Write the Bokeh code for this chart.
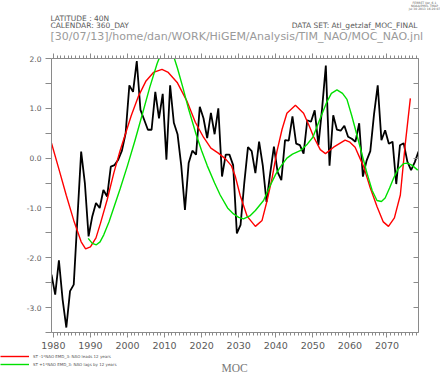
from bokeh.plotting import figure
from bokeh.layouts import column, row
from bokeh.models import (Range1d, LinearAxis, FixedTicker, Legend, LegendItem,
                          PrintfTickFormatter, CustomJSTickFormatter)
from bokeh.core.properties import value
from bokeh.embed import file_html
from bokeh.resources import INLINE

# ---------------- data ----------------
first_year = 1979.5
moc = [-2.34, -2.74, -2.05, -2.84, -3.40, -2.67, -2.54, -1.20, 0.13, -0.50,
       -1.57, -1.17, -0.90, -1.00, -0.64, -0.77, -0.17, -0.14, -0.03, 0.15,
       0.50, 1.46, 1.33, 1.95, 0.97, 0.77, 0.57, 0.57, 1.33, 0.80,
       1.29, -0.03, 1.46, 0.71, 0.48, -0.15, -1.04, -0.10, 0.15, 0.07,
       1.03, 0.80, 0.40, 0.91, 0.48, 1.00, -0.37, 0.07, 0.07, -0.14,
       -1.51, -1.34, -0.50, 0.22, 0.14, -0.30, 0.33, -0.15, -0.88, -0.30,
       0.23, -0.28, -0.44, 0.36, 0.35, 0.84, 0.29, 0.26, 0.09, 0.76,
       0.73, 0.96, 0.26, 1.00, 1.86, -0.15, 0.86, 0.57, 0.55, 0.65,
       0.43, 0.39, 0.33, 0.70, -0.37, -0.05, 0.14, 0.88, 1.46, 0.36,
       0.56, 0.29, 0.33, -0.52, 0.26, 0.30, -0.07, -0.24, -0.08, 0.13]
years = [first_year + i for i in range(len(moc))]

red_t = [1979.5, 1981.5, 1983.5, 1985.5, 1987.5, 1988.7, 1990.0, 1991.5, 1992.7, 1994.5,
         1996.3, 1998.0, 1999.5, 2001.0, 2003.0, 2005.0, 2007.0, 2009.3, 2011.0, 2013.4,
         2016.0, 2018.3, 2020.5, 2022.5, 2024.5, 2026.5, 2028.0, 2029.1, 2030.4, 2032.3,
         2034.5, 2036.3, 2037.6, 2039.0, 2040.3, 2041.7, 2043.0, 2045.3, 2047.5, 2049.0,
         2050.2, 2052.0, 2053.4, 2055.6, 2058.7, 2060.0, 2061.4, 2063.7, 2065.5, 2067.3,
         2069.0, 2070.4, 2072.0, 2073.6, 2074.9, 2076.3]
red_v = [0.30, -0.22, -0.75, -1.25, -1.68, -1.82, -1.78, -1.60, -1.31, -0.84,
         -0.30, 0.15, 0.50, 0.85, 1.25, 1.55, 1.72, 1.78, 1.72, 1.52,
         1.15, 0.72, 0.42, 0.20, 0.10, -0.02, -0.15, -0.37, -0.75, -1.17,
         -1.37, -1.25, -0.87, -0.40, 0.13, 0.58, 0.90, 1.06, 0.90, 0.65,
         0.43, 0.17, 0.09, 0.22, 0.36, 0.32, 0.22, -0.17, -0.60, -0.97,
         -1.28, -1.37, -1.20, -0.74, 0.26, 1.20]

green_t = [1989.4, 1990.5, 1991.6, 1992.6, 1993.6, 1995.0, 1996.5, 1998.0, 2000.0, 2002.0,
           2004.0, 2006.0, 2008.0, 2009.5, 2010.7, 2012.0, 2013.5, 2015.0, 2016.5, 2018.5,
           2020.0, 2021.5, 2023.5, 2025.0, 2027.0, 2028.6, 2030.0, 2031.3, 2033.0, 2034.5,
           2036.7, 2038.5, 2040.0, 2041.2, 2043.0, 2044.5, 2046.6, 2048.5, 2050.0, 2052.0,
           2053.8, 2055.0, 2056.5, 2058.0, 2059.2, 2060.5, 2061.4, 2063.0, 2064.6, 2066.0,
           2067.3, 2068.5, 2069.5, 2070.7, 2071.8, 2073.0, 2074.5, 2075.5, 2076.7, 2078.3]
green_v = [-1.61, -1.71, -1.74, -1.68, -1.54, -1.28, -0.95, -0.62, -0.15, 0.35,
           0.88, 1.42, 1.90, 2.18, 2.28, 2.15, 1.80, 1.40, 0.98, 0.48,
           0.15, -0.15, -0.50, -0.74, -1.00, -1.12, -1.19, -1.22, -1.16, -1.05,
           -0.85, -0.55, -0.32, -0.18, 0.00, 0.08, 0.15, 0.28, 0.42, 0.80,
           1.13, 1.30, 1.37, 1.30, 1.18, 0.85, 0.60, 0.15, -0.30, -0.65,
           -0.85, -0.87, -0.80, -0.60, -0.40, -0.22, -0.11, -0.10, -0.14, -0.24]

x_major = [1980, 1990, 2000, 2010, 2020, 2030, 2040, 2050, 2060, 2070]
x_minor = list(range(1980, 2079))
y_major = [-3.0, -2.0, -1.0, 0.0, 1.0, 2.0]
y_minor = [-3.5, -2.5, -1.5, -0.5, 0.5, 1.5]

header_left = ["LATITUDE : 40N", "CALENDAR: 360_DAY"]
header_right = "DATA SET: Atl_getzlaf_MOC_FINAL"
header_path = "[30/07/13]/home/dan/WORK/HiGEM/Analysis/TIM_NAO/MOC_NAO.jnl"
stamp = ["FERRET Ver. 6.1", "NOAA/PMEL TMAP", "Jul 30 2013 16:20:07"]
legend_labels = ["ST -1*NAO EMD_3: NAO leads 12 years", "ST +1*NAO EMD_3: NAO lags by 12 years"]
var_title = "MOC"

# ---------------- style ----------------
AX = "#8a8a8a"
TXT = "#5a5a5a"
RED = "#ff0000"
GREEN = "#00e000"
W = 440
HEAD_H, MAIN_H, FOOT_H = 48, 305, 21
TOP_B, BOT_B, LEFT_B, RIGHT_B = 10, 21, 51, 22


def bare(fig):
    fig.outline_line_color = None
    fig.grid.visible = False
    fig.background_fill_color = "white"
    fig.border_fill_color = "white"
    fig.min_border = 0


# ---------------- header ----------------
head = figure(width=W, height=HEAD_H, output_backend="svg", toolbar_location=None,
              x_range=Range1d(0, W), y_range=Range1d(HEAD_H, 0),
              x_axis_location=None, y_axis_location=None)
bare(head)
head.text(x=[50, 50], y=[18, 25], text=header_left, text_font=value("DejaVu Sans"),
          text_font_size="7.5px", text_color=TXT, text_align="left", text_baseline="middle")
head.text(x=[417], y=[25], text=[header_right], text_font=value("DejaVu Sans"),
          text_font_size="7.5px", text_color=TXT, text_align="right", text_baseline="middle")
head.text(x=[50], y=[36], text=[header_path], text_font=value("DejaVu Sans"),
          text_font_size="11px", text_color="#9a9a9a", text_align="left", text_baseline="middle")
head.text(x=[424, 424, 424], y=[2.7, 5.3, 7.9], text=stamp, text_font=value("DejaVu Sans"),
          text_font_size="3px", text_color=TXT, text_align="center", text_baseline="middle")

# ---------------- main plot ----------------
p = figure(width=W, height=MAIN_H, output_backend="svg", toolbar_location=None,
           x_range=Range1d(1979.5, 2078.5), y_range=Range1d(-3.5, 2.0),
           x_axis_location=None, y_axis_location=None)
bare(p)
p.min_border_left = LEFT_B
p.min_border_right = RIGHT_B
p.min_border_top = TOP_B
p.min_border_bottom = BOT_B

blank = CustomJSTickFormatter(code="return ''")


def style(ax, tin, tout, mtin, mtout):
    ax.axis_line_color = AX
    ax.axis_line_width = 1
    ax.major_tick_line_color = AX
    ax.minor_tick_line_color = AX
    ax.major_tick_in = tin
    ax.major_tick_out = tout
    ax.minor_tick_in = mtin
    ax.minor_tick_out = mtout
    ax.major_label_text_color = TXT
    ax.major_label_text_font = "DejaVu Sans"


bottom = LinearAxis(ticker=FixedTicker(ticks=x_major, minor_ticks=x_minor))
style(bottom, 0, 5, 0, 3)
bottom.major_label_text_font_size = "9.5px"
bottom.major_label_standoff = 4
p.add_layout(bottom, "below")

top = LinearAxis(ticker=FixedTicker(ticks=x_major, minor_ticks=x_minor), formatter=blank)
style(top, 0, 5, 0, 3)
top.major_label_standoff = 0
top.major_label_text_font_size = "1px"
p.add_layout(top, "above")

left = LinearAxis(ticker=FixedTicker(ticks=y_major, minor_ticks=y_minor),
                  formatter=PrintfTickFormatter(format="%.1f"))
style(left, 0, 6, 0, 6)
left.major_label_text_font_size = "7.5px"
left.major_label_standoff = 4
p.add_layout(left, "left")

right = LinearAxis(ticker=FixedTicker(ticks=y_major, minor_ticks=y_minor), formatter=blank)
style(right, 5, 0, 5, 0)
right.major_label_text_font_size = "1px"
right.major_label_standoff = 0
p.add_layout(right, "right")

p.line(years, moc, line_color="black", line_width=1.8)
p.line(red_t, red_v, line_color=RED, line_width=1.4)
p.line(green_t, green_v, line_color=GREEN, line_width=1.4)

# ---------------- footer: legend and variable title ----------------
foot = figure(width=W, height=FOOT_H, output_backend="svg", toolbar_location=None,
              x_range=Range1d(0, W), y_range=Range1d(FOOT_H, 0),
              x_axis_location=None, y_axis_location=None)
bare(foot)
# same series, drawn here only so the legend can show their keys (they fall outside this frame)
key_red = foot.line(red_t, red_v, line_color=RED, line_width=1.4)
key_green = foot.line(green_t, green_v, line_color=GREEN, line_width=1.4)
legend = Legend(items=[LegendItem(label=legend_labels[0], renderers=[key_red]),
                       LegendItem(label=legend_labels[1], renderers=[key_green])],
                location=(0, 6), orientation="vertical",
                glyph_width=29, glyph_height=8, label_height=8, label_standoff=4,
                spacing=0, padding=0, margin=0,
                label_text_font_size="4px", label_text_color="#555555",
                label_text_font="DejaVu Sans",
                border_line_color=None, background_fill_alpha=0)
foot.add_layout(legend)
foot.text(x=[234], y=[14.4], text=[var_title], text_font=value("Liberation Serif"),
          text_font_size="11.5px", text_color="#777777", text_align="center",
          text_baseline="middle")

page = column(row(head), p, row(foot), spacing=0)
open("out.html", "w").write(file_html(page, INLINE))
